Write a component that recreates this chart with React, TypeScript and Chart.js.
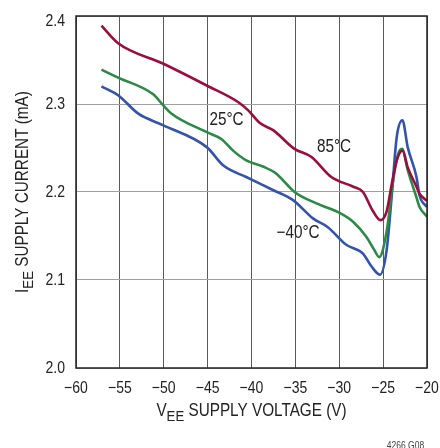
import React, { useEffect, useRef } from "react";
import { Chart, registerables } from "chart.js";

Chart.register(...registerables);

const voltage85 = [-57.1, -55.2, -50.1, -45.1, -41.5, -40.4, -39.0, -37.5, -35.1, -33.2, -30.9, -28.4, -27.3, -26.2, -25.3, -24.6, -24.0, -23.45, -22.8, -22.2, -21.2, -20.85, -20];
const current85 = [2.389, 2.369, 2.346, 2.321, 2.302, 2.293, 2.278, 2.270, 2.249, 2.240, 2.217, 2.206, 2.200, 2.179, 2.168, 2.178, 2.210, 2.236, 2.247, 2.228, 2.206, 2.198, 2.190];

const voltage25 = [-57.1, -55.2, -51.2, -50.1, -49.1, -45.1, -43.4, -42.1, -40.6, -38.7, -37.2, -35.1, -32.6, -29.9, -28.4, -26.9, -26.0, -25.45, -24.6, -23.8, -23.26, -22.8, -22.2, -21.2, -20.85, -20];
const current25 = [2.339, 2.330, 2.311, 2.299, 2.289, 2.268, 2.260, 2.247, 2.236, 2.229, 2.221, 2.200, 2.187, 2.176, 2.166, 2.149, 2.134, 2.126, 2.155, 2.217, 2.244, 2.249, 2.225, 2.194, 2.183, 2.172];

const voltageM40 = [-57.1, -55.2, -52.9, -50.1, -45.1, -43.2, -40.6, -37.5, -35.3, -33.0, -31.3, -29.2, -27.3, -26.3, -25.35, -24.6, -24.0, -23.45, -22.8, -22.2, -21.2, -20.85, -20];
const currentM40 = [2.320, 2.310, 2.289, 2.276, 2.251, 2.230, 2.217, 2.202, 2.191, 2.170, 2.160, 2.140, 2.130, 2.115, 2.106, 2.134, 2.198, 2.2625, 2.2815, 2.251, 2.217, 2.196, 2.183];

const seriesLabels = ["85°C", "25°C", "−40°C"];
const labelVoltage = [-30.6, -42.85, -34.7];
const labelCurrent = [2.251, 2.282, 2.153];

const xTicks = [-60, -55, -50, -45, -40, -35, -30, -25, -20];
const yTicks = [2.0, 2.1, 2.2, 2.3, 2.4];

const FONT = "'Liberation Sans', Arial, sans-serif";
const SX = 0.85;
const INK = "#222";
const RED = "#9b0d3c";
const GREEN = "#2b8a46";
const BLUE = "#3453aa";

const zip = (xs: number[], ys: number[]) => xs.map((x, i) => ({ x, y: ys[i] }));

const narrowText = (
  ctx: CanvasRenderingContext2D,
  str: string,
  x: number,
  y: number,
  size: number,
  align: "left" | "center" | "right",
  baseline: CanvasTextBaseline
) => {
  ctx.font = `${size}px ${FONT}`;
  ctx.textBaseline = baseline;
  ctx.textAlign = "left";
  const w = ctx.measureText(str).width * SX;
  const left = align === "left" ? x : align === "center" ? x - w / 2 : x - w;
  ctx.fillText(str, left, y, w);
};

// draws parts centered at local x = 0, baseline at local y = 0
const drawSubText = (
  ctx: CanvasRenderingContext2D,
  parts: { t: string; sub?: boolean }[],
  big: number,
  small: number
) => {
  ctx.textAlign = "left";
  ctx.textBaseline = "alphabetic";
  const widths = parts.map((p) => {
    ctx.font = `${p.sub ? small : big}px ${FONT}`;
    return ctx.measureText(p.t).width * SX;
  });
  const total = widths.reduce((a, b) => a + b, 0);
  let x = -total / 2;
  parts.forEach((p, i) => {
    ctx.font = `${p.sub ? small : big}px ${FONT}`;
    ctx.fillText(p.t, x, p.sub ? 4.5 : 0, widths[i]);
    x += widths[i];
  });
};

const fmtX = (v: number) => (v < 0 ? "−" + Math.abs(v) : String(v));

const overlay = {
  id: "overlay",
  afterDraw(chart: any) {
    const { ctx, chartArea, scales } = chart;
    ctx.save();
    ctx.setTransform(1, 0, 0, 1, 0, 0);
    ctx.strokeStyle = "#222";
    ctx.lineWidth = 1.5;
    ctx.strokeRect(chartArea.left, chartArea.top, chartArea.right - chartArea.left, chartArea.bottom - chartArea.top);

    ctx.fillStyle = INK;
    xTicks.forEach((v) => {
      narrowText(ctx, fmtX(v), scales.x.getPixelForValue(v), 388, 16.5, "center", "middle");
    });
    yTicks.forEach((v) => {
      const py = Math.max(scales.y.getPixelForValue(v) + 0.5, chartArea.top + 5);
      narrowText(ctx, v.toFixed(1), chartArea.left - 11, py, 16.5, "right", "middle");
    });
    seriesLabels.forEach((t, i) => {
      narrowText(
        ctx,
        t,
        scales.x.getPixelForValue(labelVoltage[i]),
        scales.y.getPixelForValue(labelCurrent[i]),
        18,
        "center",
        "middle"
      );
    });

    // x title
    ctx.setTransform(1, 0, 0, 1, (chartArea.left + chartArea.right) / 2, 416);
    drawSubText(ctx, [{ t: "V" }, { t: "EE", sub: true }, { t: " SUPPLY VOLTAGE (V)" }], 18, 15.5);

    // y title (rotated 90° counter-clockwise)
    ctx.setTransform(0, -1, 1, 0, 28, (chartArea.top + chartArea.bottom) / 2);
    drawSubText(ctx, [{ t: "I" }, { t: "EE", sub: true }, { t: " SUPPLY CURRENT (mA)" }], 18, 15.5);

    ctx.setTransform(1, 0, 0, 1, 0, 0);
    ctx.fillStyle = "#444";
    narrowText(ctx, "4266 G08", 405.5, 449, 10, "center", "alphabetic");
    ctx.restore();
  },
};

export default function App() {
  const ref = useRef<HTMLCanvasElement>(null);
  useEffect(() => {
    document.body.style.margin = "0";
    const canvas = ref.current!;
    const existing = Chart.getChart(canvas);
    if (existing) existing.destroy();
    const mk = (label: string, xs: number[], ys: number[], color: string) => ({
      label,
      data: zip(xs, ys),
      borderColor: color,
      backgroundColor: color,
      borderWidth: 2.6,
      pointRadius: 0,
      cubicInterpolationMode: "monotone" as const,
      fill: false,
    });
    const chart = new Chart(canvas, {
      type: "line",
      data: {
        datasets: [
          mk(seriesLabels[0], voltage85, current85, RED),
          mk(seriesLabels[1], voltage25, current25, GREEN),
          mk(seriesLabels[2], voltageM40, currentM40, BLUE),
        ],
      },
      options: {
        animation: false,
        responsive: false,
        devicePixelRatio: 1,
        layout: { padding: { top: 16, right: 13, left: 0, bottom: 0 } },
        plugins: { legend: { display: false }, tooltip: { enabled: false } },
        scales: {
          x: {
            type: "linear",
            min: -60,
            max: -20,
            afterBuildTicks: (s: any) => {
              s.ticks = xTicks.map((v) => ({ value: v }));
            },
            afterFit: (s: any) => {
              s.height = 80;
            },
            grid: { color: "#5a5a5a", lineWidth: 1, drawTicks: false },
            border: { display: false },
            ticks: { display: false },
          },
          y: {
            type: "linear",
            min: 2.0,
            max: 2.4,
            afterBuildTicks: (s: any) => {
              s.ticks = yTicks.map((v) => ({ value: v }));
            },
            afterFit: (s: any) => {
              s.width = 76;
            },
            grid: { color: "#a0a0a0", lineWidth: 1, drawTicks: false },
            border: { display: false },
            ticks: { display: false },
          },
        },
      },
      plugins: [overlay],
    });
    return () => chart.destroy();
  }, []);
  return (
    <div style={{ position: "absolute", left: 0, top: 0, width: 440, height: 448 }}>
      <canvas ref={ref} width={440} height={448} style={{ width: 440, height: 448, display: "block" }} />
    </div>
  );
}
